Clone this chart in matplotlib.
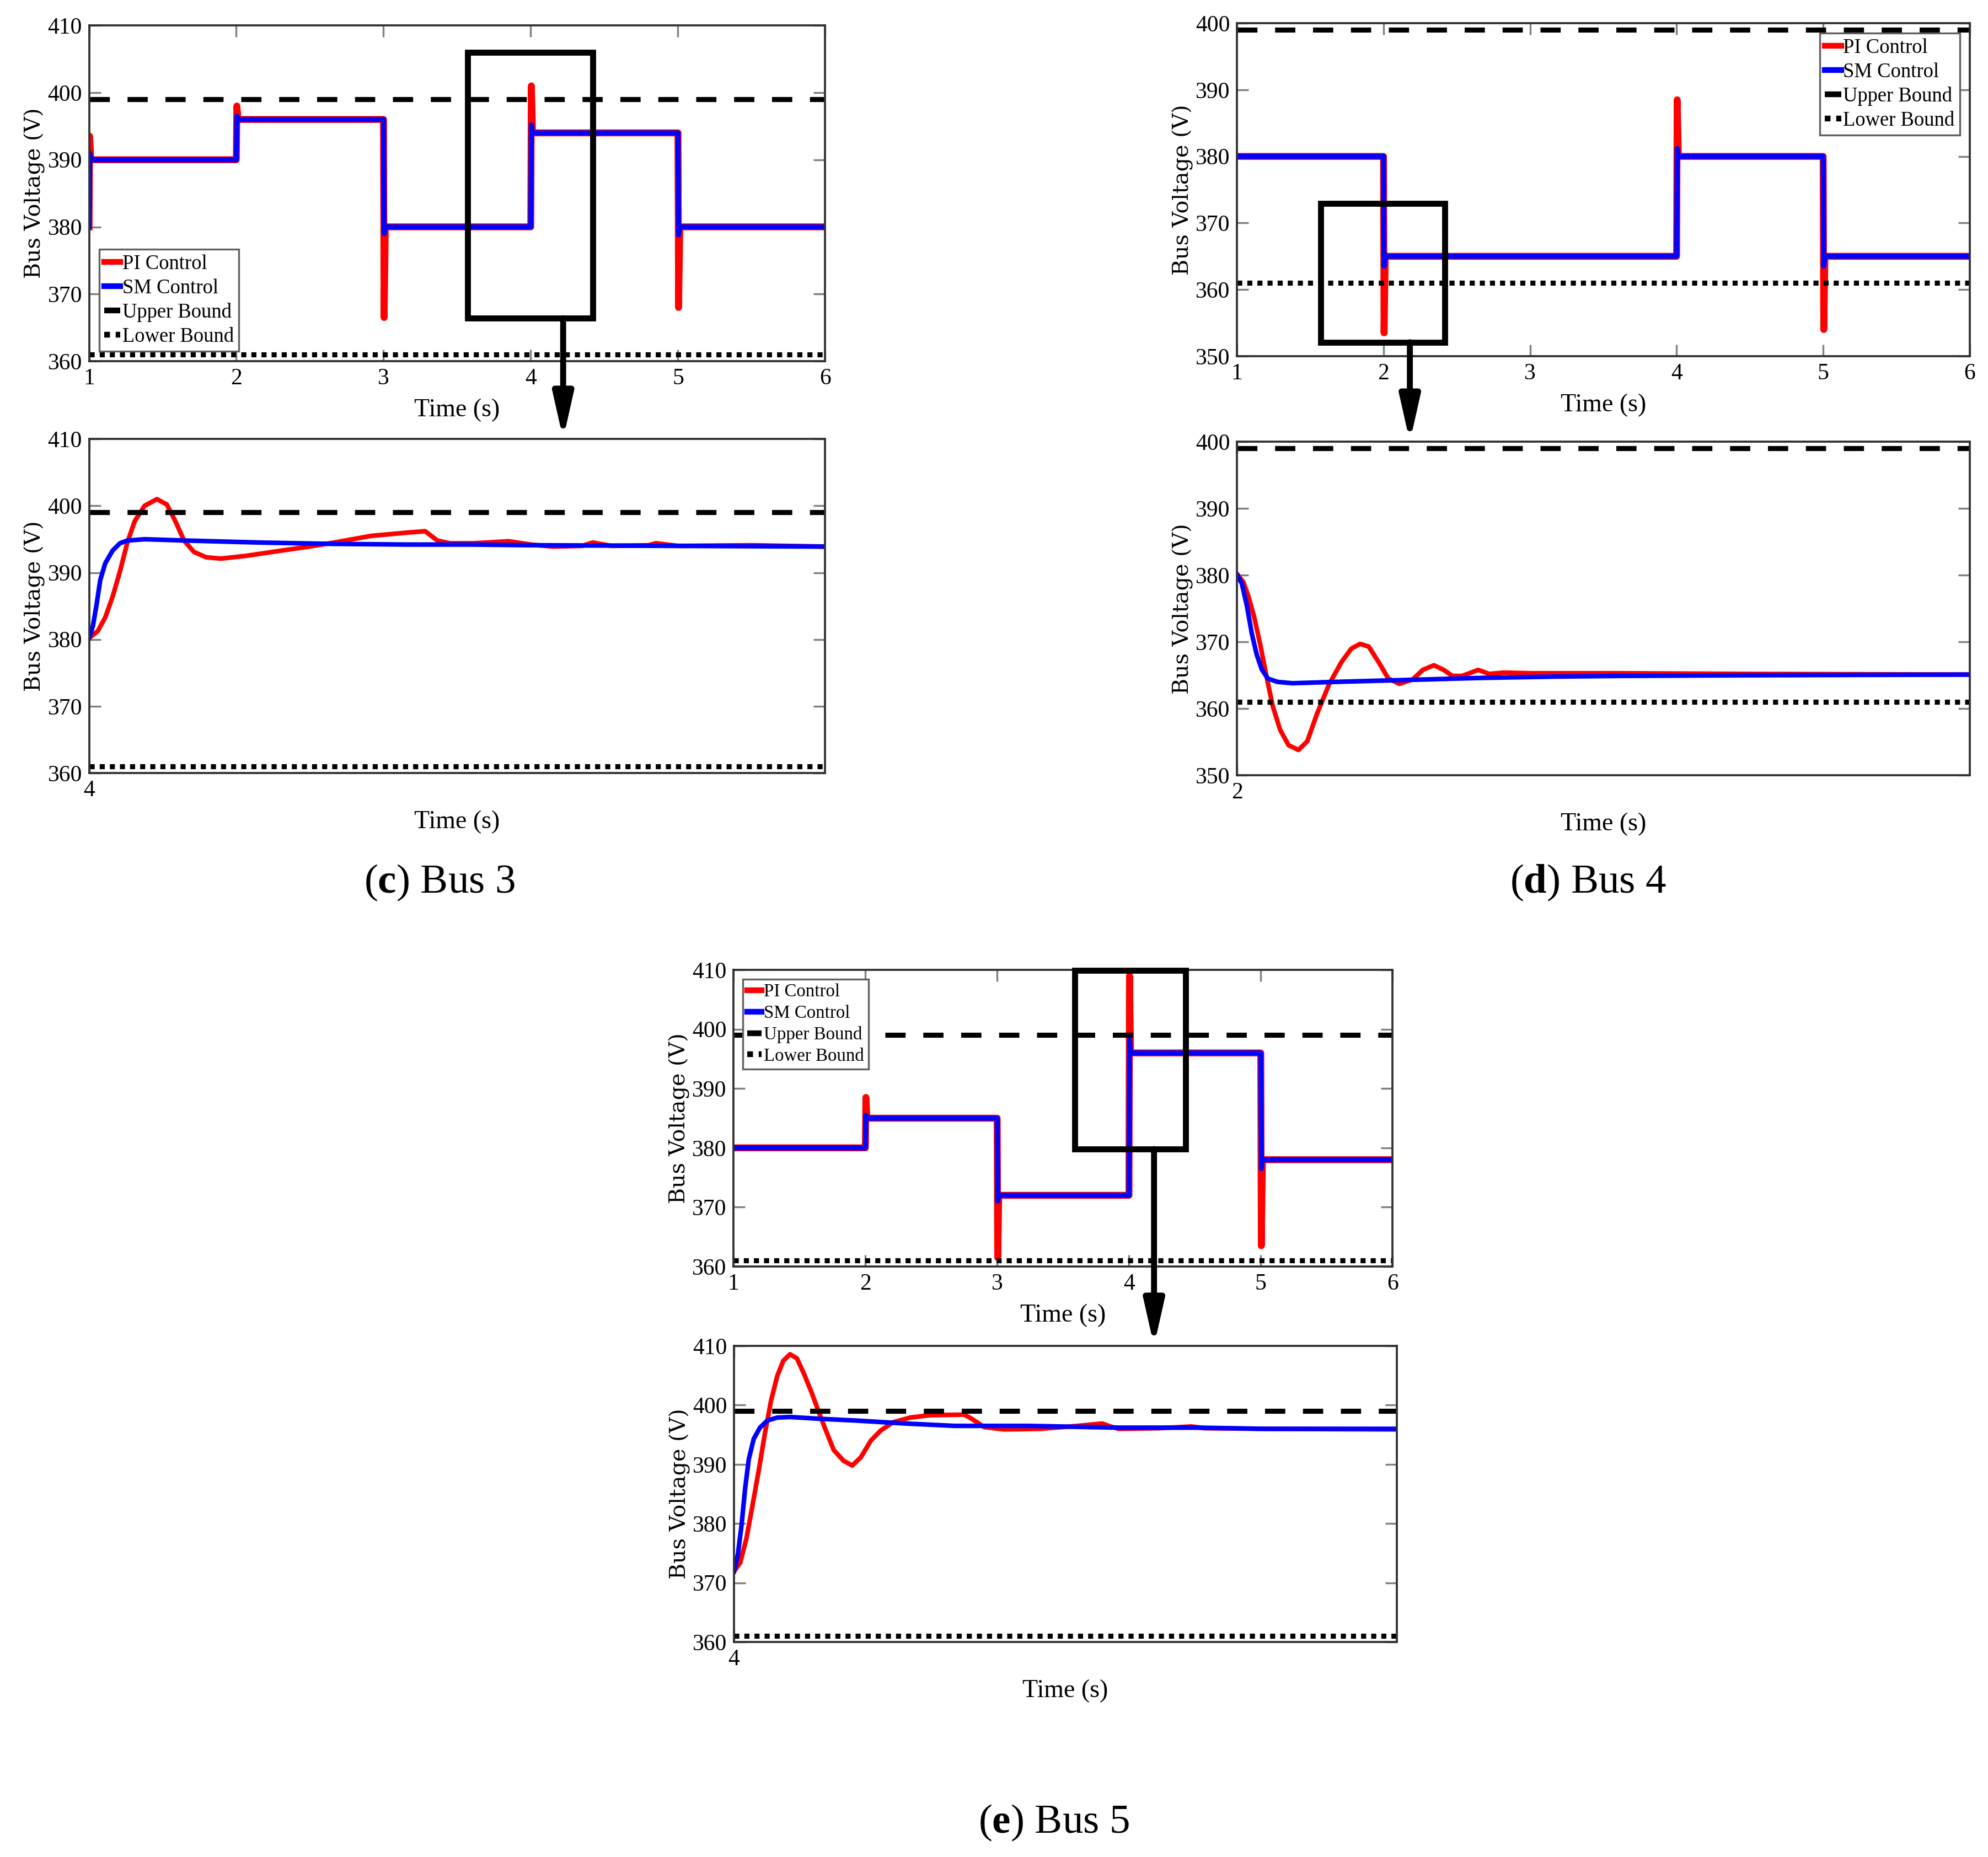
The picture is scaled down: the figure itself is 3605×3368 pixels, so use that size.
import matplotlib
matplotlib.use("Agg")
import matplotlib.pyplot as plt
from matplotlib.patches import Rectangle, ConnectionPatch

plt.rcParams['font.family'] = ['Liberation Serif', 'DejaVu Serif']
plt.rcParams['mathtext.fontset'] = 'custom'
plt.rcParams['mathtext.rm'] = 'Liberation Serif'
plt.rcParams['mathtext.bf'] = 'Liberation Serif:bold'

UPPER, LOWER = 399, 361

# ---- step tests (full 1..6 s) ----
BUS3_T = [1, 2, 3, 4, 5]
BUS3_LV = [390, 396, 380, 394, 380]
BUS3_START = 380
BUS3_PI_PK = [393.5, 398, 366.5, 401, 368]
BUS3_SM_PK = [391, 396.5, 379, 395.2, 378.8]

BUS4_T = [2, 4, 5]
BUS4_LV = [365, 380, 365]
BUS4_START = 380
BUS4_PI_PK = [353.5, 388.5, 354]
BUS4_SM_PK = [363.5, 381.2, 363.5]

BUS5_T = [2, 3, 4, 5]
BUS5_LV = [385, 372, 396, 378]
BUS5_START = 380
BUS5_PI_PK = [388.5, 361.5, 409, 363.5]
BUS5_SM_PK = [385.5, 371, 398.2, 376.5]

# ---- zoomed transients (seconds after the step) ----
Z3_PI_T = [0, .0059, .011, .016, .021, .026, .031, .0377, .0461, .0528, .0586, .0645, .0712, .0795, .0895,
           .1062, .1246, .1497, .1664, .1915, .2166, .2283, .2366, .245, .2614, .285, .30, .315, .335, .342,
           .355, .38, .385, .40, .45, .50]
Z3_PI_V = [380.2, 381.25, 383.3, 386.4, 390.2, 394.5, 397.7, 400.0, 401.0, 400.2, 397.7, 394.8, 393.1, 392.3, 392.1,
           392.5, 393.1, 393.9, 394.5, 395.5, 396.0, 396.2, 394.8, 394.4, 394.4, 394.7, 394.2, 393.9, 394.0, 394.5,
           394.0, 394.1, 394.4, 394.0, 394.1, 393.9]
Z3_SM_T = [0, .0026, .0051, .0076, .011, .016, .021, .026, .0377, .0661, .1163, .1664, .2166, .2614, .30, .40, .50]
Z3_SM_V = [380.2, 382.0, 385.2, 388.9, 391.4, 393.3, 394.4, 394.8, 395.0, 394.8, 394.5, 394.3, 394.2, 394.2,
           394.1, 394.0, 393.9]

Z4_PI_T = [0, .0043, .0076, .0118, .016, .0202, .0244, .0295, .0353, .042, .048, .0546, .063, .0714, .0781,
           .084, .0899, .0966, .1033, .1109, .1201, .1268, .1344, .1411, .147, .1537, .1646, .1721, .1822,
           .2007, .2624, .35, .50]
Z4_PI_V = [380.2, 379.0, 377.0, 373.7, 369.5, 364.8, 360.4, 356.8, 354.5, 353.8, 355.1, 359.2, 363.7, 367.0, 369.0,
           369.7, 369.3, 367.0, 364.5, 363.7, 364.4, 365.8, 366.5, 365.8, 364.9, 364.9, 365.8, 365.2, 365.4,
           365.3, 365.3, 365.2, 365.1]
Z4_SM_T = [0, .0034, .0068, .0102, .0135, .0169, .0211, .0278, .0379, .0664, .1168, .1665, .2175, .2624, .35, .50]
Z4_SM_V = [380.1, 378.7, 375.4, 371.2, 368.1, 365.9, 364.5, 364.0, 363.8, 364.0, 364.3, 364.6, 364.8, 364.9,
           365.0, 365.1]

Z5_PI_T = [0, .0047, .0094, .014, .0187, .0233, .028, .0326, .0372, .0423, .0475, .053, .0586, .0642, .0697,
           .0753, .0827, .0892, .0957, .1032, .1106, .1199, .1329, .1477, .1737, .1793, .1886, .2034, .2313,
           .2592, .2777, .2852, .2904, .32, .345, .355, .40, .50]
Z5_PI_V = [371.9, 373.4, 377.5, 383.1, 389.0, 395.2, 400.8, 404.9, 407.5, 408.6, 407.9, 405.2, 402.1, 398.7, 395.5,
           392.4, 390.6, 389.8, 391.2, 394.0, 395.7, 397.1, 397.9, 398.3, 398.4, 397.7, 396.3, 395.9, 396.0,
           396.5, 396.9, 396.3, 396.0, 396.1, 396.4, 396.1, 396.0, 395.9]
Z5_SM_T = [0, .0029, .0057, .0084, .0112, .0149, .0196, .0252, .0326, .0423, .0642, .092, .1292, .1663, .222,
           .2904, .35, .40, .50]
Z5_SM_V = [371.9, 374.7, 379.7, 385.9, 390.9, 394.3, 396.2, 397.4, 397.9, 398.0, 397.7, 397.4, 396.9, 396.5,
           396.5, 396.2, 396.2, 396.0, 396.0]

# zoom boxes (x0, x1, y0, y1) and arrow x, in data units of the upper panel
BOX3 = (3.57, 4.42, 366.4, 406.0); ARROW3 = 4.22
BOX4 = (1.57, 2.42, 352.1, 372.9); ARROW4 = 2.18
BOX5 = (3.59, 4.43, 379.8, 409.9); ARROW5 = 4.19

RED, BLUE = "#ff0000", "#0000ff"


def step_series(t_steps, levels, start, peaks, dt=0.004):
    t = [1.0]; v = [start]; prev = start
    for ts, lv, pk in zip(t_steps, levels, peaks):
        t += [ts, ts + dt, ts + 3 * dt]; v += [prev, pk, lv]; prev = lv
    t.append(6.0); v.append(prev)
    return t, v


def style(ax, ylim, yticks):
    ax.set_ylim(*ylim); ax.set_yticks(yticks)
    ax.tick_params(direction="in", length=5, width=0.8, color="#808080", top=True, right=True,
                   labelsize=10, pad=3)
    for s in ax.spines.values():
        s.set_linewidth(0.9); s.set_color("#303030")
    ax.set_ylabel("Bus Voltage (V)", family="DejaVu Serif", fontsize=9.5, labelpad=1)
    ax.set_xlabel("Time (s)", fontsize=11)


def bounds(ax, x0, x1):
    ax.plot([x0, x1], [UPPER, UPPER], color="k", lw=2.2, ls=(0, (4, 3.5)), label="Upper Bound")
    ax.plot([x0, x1], [LOWER, LOWER], color="k", lw=2.2, ls=(0, (1, 1)), label="Lower Bound")


def top_panel(ax, t_steps, levels, start, pi_pk, sm_pk, ylim, yticks, loc, fs=8.8):
    tp, vp = step_series(t_steps, levels, start, pi_pk)
    tsm, vsm = step_series(t_steps, levels, start, sm_pk)
    ax.plot(tp, vp, color=RED, lw=3.0, label="PI Control")
    ax.plot(tsm, vsm, color=BLUE, lw=2.2, label="SM Control")
    bounds(ax, 1, 6)
    ax.set_xlim(1, 6); ax.set_xticks([1, 2, 3, 4, 5, 6])
    style(ax, ylim, yticks)
    leg = ax.legend(loc=loc, fontsize=fs, handlelength=0.8, handletextpad=0.1, labelspacing=0.25,
                    borderpad=0.25, borderaxespad=0.5, fancybox=False, framealpha=1, edgecolor="#606060")
    leg.get_frame().set_linewidth(0.8)
    for h in leg.get_lines():
        h.set_linewidth(2.5)


def zoom_panel(ax, t0, pt, pv, st, sv, ylim, yticks):
    ax.plot([t0 + x for x in pt], pv, color=RED, lw=2.0)
    ax.plot([t0 + x for x in st], sv, color=BLUE, lw=2.0)
    bounds(ax, t0, t0 + 0.5)
    ax.set_xlim(t0, t0 + 0.5); ax.set_xticks([t0]); ax.set_xticklabels([str(t0)])
    style(ax, ylim, yticks)


def box_arrow(fig, ax_top, ax_bot, box, ax_x):
    x0, x1, y0, y1 = box
    ax_top.add_patch(Rectangle((x0, y0), x1 - x0, y1 - y0, fill=False, ec="k", lw=2.6, clip_on=False, zorder=5))
    # arrow drops straight down from the box to the top of the zoom panel
    fx_fig = ax_top.transData.transform((ax_x, y0))
    fx = ax_bot.transAxes.inverted().transform(fx_fig)[0]
    con = ConnectionPatch(xyA=(ax_x, y0), coordsA=ax_top.transData, xyB=(fx, 1.0), coordsB=ax_bot.transAxes,
                          arrowstyle="-|>,head_length=0.8,head_width=0.18", mutation_scale=20,
                          lw=2.6, color="k", shrinkA=0, shrinkB=0)
    fig.add_artist(con)


fig = plt.figure(figsize=(3605 / 300, 3368 / 300), dpi=300)

ax3a = fig.add_axes([0.0448, 0.8055, 0.3703, 0.1808])
ax3b = fig.add_axes([0.0448, 0.5837, 0.3703, 0.1799])
ax4a = fig.add_axes([0.6222, 0.8082, 0.3686, 0.1793])
ax4b = fig.add_axes([0.6222, 0.5825, 0.3686, 0.1796])
ax5a = fig.add_axes([0.3690, 0.3180, 0.3315, 0.1597])
ax5b = fig.add_axes([0.3692, 0.1158, 0.3335, 0.1594])

top_panel(ax3a, BUS3_T, BUS3_LV, BUS3_START, BUS3_PI_PK, BUS3_SM_PK, (360, 410), range(360, 411, 10), "lower left")
zoom_panel(ax3b, 4, Z3_PI_T, Z3_PI_V, Z3_SM_T, Z3_SM_V, (360, 410), range(360, 411, 10))

top_panel(ax4a, BUS4_T, BUS4_LV, BUS4_START, BUS4_PI_PK, BUS4_SM_PK, (350, 400), range(350, 401, 10), "upper right")
zoom_panel(ax4b, 2, Z4_PI_T, Z4_PI_V, Z4_SM_T, Z4_SM_V, (350, 400), range(350, 401, 10))

top_panel(ax5a, BUS5_T, BUS5_LV, BUS5_START, BUS5_PI_PK, BUS5_SM_PK, (360, 410), range(360, 411, 10), "upper left",
          fs=7.9)
zoom_panel(ax5b, 4, Z5_PI_T, Z5_PI_V, Z5_SM_T, Z5_SM_V, (360, 410), range(360, 411, 10))

box_arrow(fig, ax3a, ax3b, BOX3, ARROW3)
box_arrow(fig, ax4a, ax4b, BOX4, ARROW4)
box_arrow(fig, ax5a, ax5b, BOX5, ARROW5)

fig.text(0.221, 0.5246, r"($\mathbf{c}$) Bus 3", fontsize=18, ha="center", va="center")
fig.text(0.799, 0.5246, r"($\mathbf{d}$) Bus 4", fontsize=18, ha="center", va="center")
fig.text(0.530, 0.0184, r"($\mathbf{e}$) Bus 5", fontsize=18, ha="center", va="center")

fig.savefig("out.png", dpi=300)
